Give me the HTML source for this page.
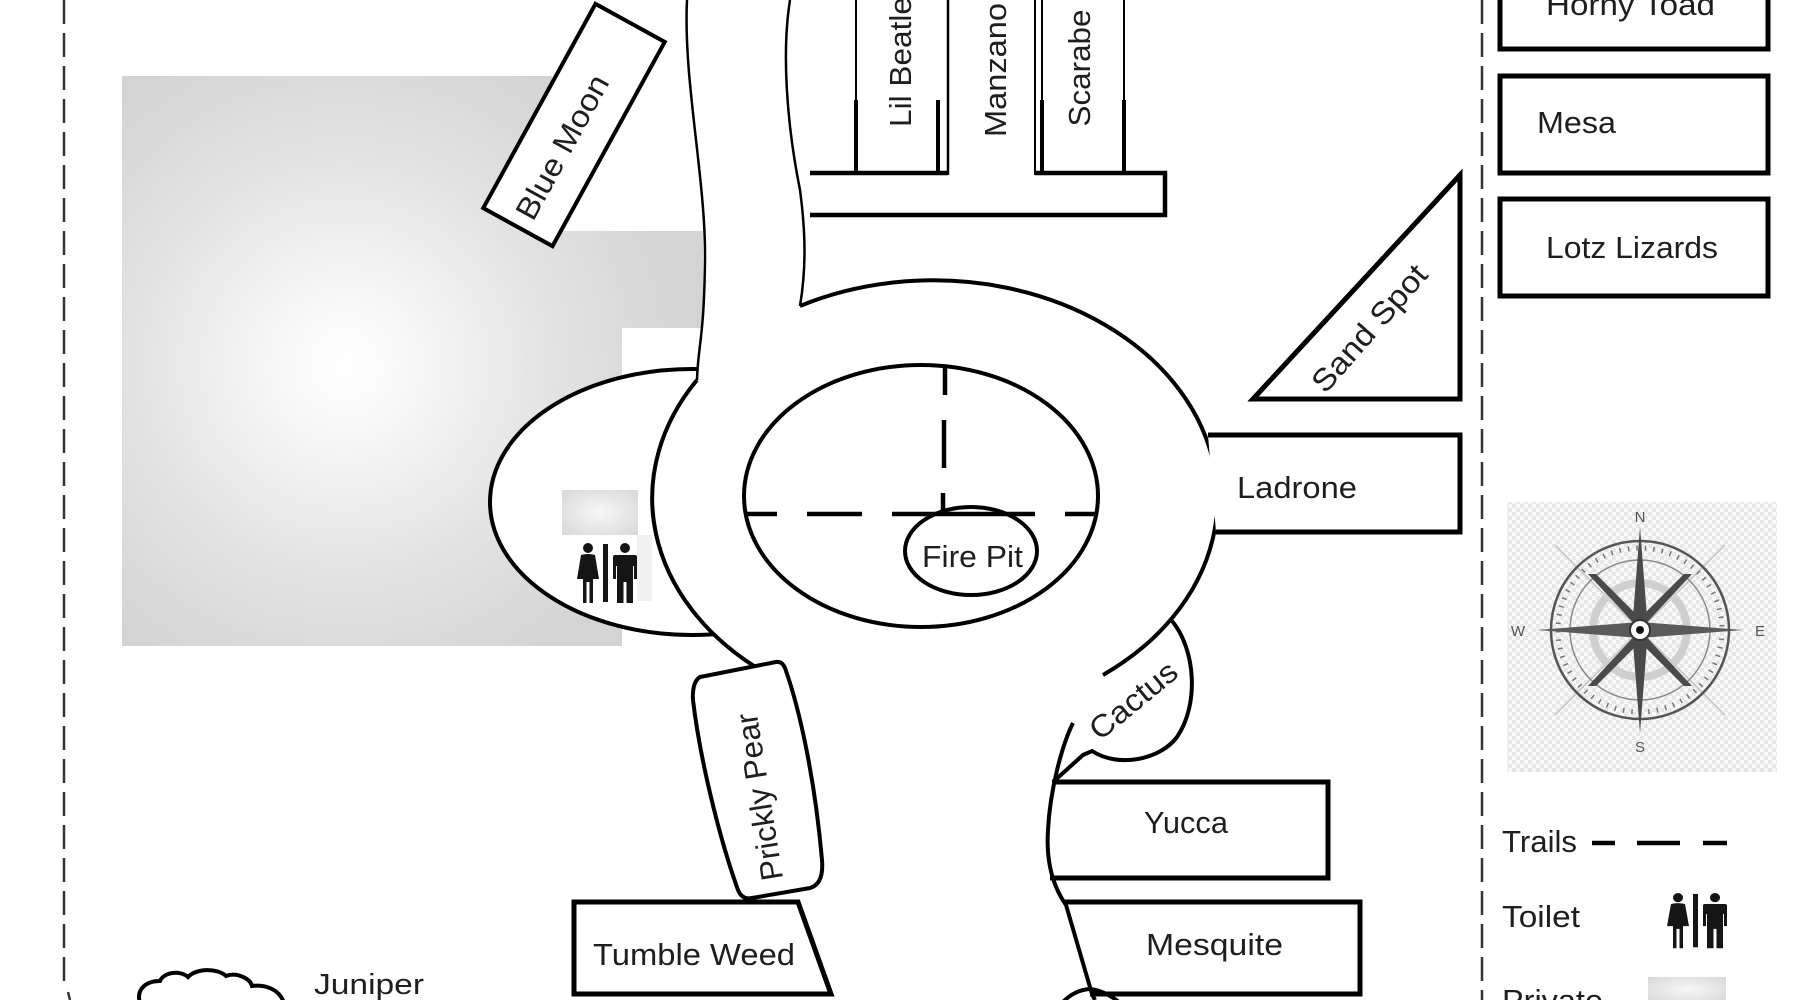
<!DOCTYPE html>
<html>
<head>
<meta charset="utf-8">
<style>
html,body{margin:0;padding:0;background:#fff;}
svg{display:block;}
text{font-family:"Liberation Sans",Arial,sans-serif;fill:#1e1e1e;font-size:31px;}
</style>
</head>
<body>
<svg width="1800" height="1000" viewBox="0 0 1800 1000" xmlns="http://www.w3.org/2000/svg">
<defs>
  <radialGradient id="pg" gradientUnits="userSpaceOnUse" cx="345" cy="365" r="345">
    <stop offset="0" stop-color="#ffffff"/>
    <stop offset="0.2" stop-color="#f7f7f7"/>
    <stop offset="0.6" stop-color="#e3e3e3"/>
    <stop offset="1" stop-color="#d4d4d4"/>
  </radialGradient>
  <radialGradient id="sg" cx="0.5" cy="0.5" r="0.65">
    <stop offset="0" stop-color="#f7f7f7"/>
    <stop offset="1" stop-color="#dadada"/>
  </radialGradient>
  <pattern id="chk" width="8" height="8" patternUnits="userSpaceOnUse">
    <rect width="8" height="8" fill="#f8f8f8"/>
    <rect width="4" height="4" fill="#e7e7e7"/>
    <rect x="4" y="4" width="4" height="4" fill="#e7e7e7"/>
  </pattern>
  <g id="wc" fill="#151515">
    <circle cx="11" cy="5" r="5"/>
    <path d="M4,12 Q11,10 18,12 L22,36 H16 V60 H12.5 V39 H9.5 V60 H6 V36 H0 Z"/>
    <rect x="26" y="1" width="5" height="58"/>
    <circle cx="48" cy="5" r="5"/>
    <path d="M38,12 H58 Q60,12 60,14 V36 H57 V23 H56 V60 H49.5 V39 H46.5 V60 H40 V23 H39 V36 H36 V14 Q36,12 38,12 Z"/>
  </g>
</defs>

<!-- background -->
<rect width="1800" height="1000" fill="#fff"/>

<!-- boundary dashed lines -->
<line x1="64" y1="0" x2="64" y2="982" stroke="#333" stroke-width="2.5" stroke-dasharray="24 9"/>
<line x1="68" y1="992" x2="70" y2="1000" stroke="#333" stroke-width="2.5"/>
<line x1="1482" y1="0" x2="1482" y2="1000" stroke="#333" stroke-width="2.5" stroke-dasharray="24 9"/>

<!-- private area -->
<path d="M122,76 H552 V231 H703 V328 H622 V646 H122 Z" fill="url(#pg)"/>

<!-- toilet area ellipse -->
<ellipse cx="692" cy="502" rx="202" ry="133" fill="#fff" stroke="#000" stroke-width="4"/>
<rect x="562" y="490" width="76" height="45" fill="url(#sg)"/>
<rect x="637" y="535" width="15" height="66" fill="#f0f0f0"/>
<use href="#wc" transform="translate(577,543)"/>

<!-- road fills -->
<ellipse cx="936" cy="498" rx="284" ry="219" fill="#fff"/>
<path d="M687,0 C683,80 706,180 705,260 S698,345 697,380 L720,400 L800,320 L800,306 C806,270 806,235 800,190 C786,120 782,50 790,0 Z" fill="#fff"/>

<!-- road strokes -->
<path d="M687,0 C683,80 706,180 705,260 S698,345 697,380" fill="none" stroke="#000" stroke-width="2.5"/>
<path d="M790,0 C782,50 786,120 800,190 C806,235 806,270 800,306" fill="none" stroke="#000" stroke-width="2.5"/>
<path d="M697,380 A284,219 0 0 0 757,668" fill="none" stroke="#000" stroke-width="4"/>
<path d="M800,306 A284,219 0 0 1 1103,675" fill="none" stroke="#000" stroke-width="4"/>

<!-- cactus bubble -->
<path d="M1172,621 C1196,650 1199,705 1177,737 C1160,760 1118,768 1092,751 L1083,755 L1053,782" fill="#fff" stroke="#000" stroke-width="4"/>

<!-- inner ellipse -->
<ellipse cx="921" cy="496" rx="177" ry="131" fill="#fff" stroke="#000" stroke-width="4"/>

<!-- fire pit -->
<ellipse cx="971" cy="551" rx="66" ry="44" fill="#fff" stroke="#000" stroke-width="4"/>

<!-- trails -->
<g stroke="#000" stroke-width="4.5">
  <line x1="747" y1="514" x2="777" y2="514"/>
  <line x1="807" y1="514" x2="862" y2="514"/>
  <line x1="892" y1="514" x2="1035" y2="514"/>
  <line x1="1065" y1="514" x2="1095" y2="514"/>
  <line x1="945" y1="368" x2="945" y2="395"/>
  <line x1="944" y1="420" x2="944" y2="468"/>
  <line x1="943" y1="493" x2="943" y2="514"/>
</g>

<!-- cabins at top -->
<g stroke="#000" fill="none">
  <line x1="856" y1="0" x2="856" y2="100" stroke-width="2"/>
  <line x1="856" y1="100" x2="856" y2="175" stroke-width="4"/>
  <line x1="948" y1="0" x2="948" y2="175" stroke-width="2.5"/>
  <line x1="938" y1="100" x2="938" y2="175" stroke-width="4"/>
  <line x1="1035" y1="0" x2="1035" y2="175" stroke-width="2"/>
  <line x1="1042" y1="0" x2="1042" y2="100" stroke-width="2"/>
  <line x1="1042" y1="100" x2="1042" y2="175" stroke-width="4"/>
  <line x1="1124" y1="0" x2="1124" y2="100" stroke-width="2"/>
  <line x1="1124" y1="100" x2="1124" y2="175" stroke-width="4"/>
  <path d="M948,173 H810 M1035,173 H1165 V215 H810" stroke-width="4.5"/>
</g>

<!-- Blue Moon -->
<g transform="translate(574,125) rotate(-61.2)">
  <rect x="-116.5" y="-39.5" width="233" height="79" fill="#fff" stroke="#000" stroke-width="4"/>
  <text x="-25" y="11" text-anchor="middle" textLength="160" lengthAdjust="spacingAndGlyphs">Blue Moon</text>
</g>

<!-- boxes -->
<g fill="#fff" stroke="#000" stroke-width="5">
  <rect x="1500" y="-10" width="268" height="59"/>
  <rect x="1500" y="76" width="268" height="97"/>
  <rect x="1500" y="199" width="268" height="97"/>
  <polygon points="1460,175 1253,399 1460,399"/>
  <path d="M1208,435 H1460 V532 H1216"/>
  <path d="M1052,782 H1328 V878 H1050"/>
  <path d="M1064,902 H1360 V994 H1090"/>
  <path d="M574,902 H798 L831,994 H574 Z"/>
  <path d="M700,677 L776,662 Q782,661 785,668 C800,710 815,780 822,860 Q824,884 810,888 L752,898 Q742,900 738,890 C720,840 700,760 693,700 Q692,682 700,677 Z" stroke-width="4"/>
</g>

<!-- lower right road edge (on top of boxes) -->
<path d="M1073,723 C1062,745 1050,790 1048,830 C1046,860 1052,885 1066,905 L1092,994 L1095,1000" fill="none" stroke="#000" stroke-width="4"/>

<!-- bottom small arcs / cloud -->
<path d="M1062,1003 Q1074,990 1090,989 Q1106,991 1120,1003" fill="none" stroke="#000" stroke-width="4"/>
<path d="M140,1003 C136,990 145,981 160,981 C164,972 180,970 188,977 C196,968 218,968 226,976 C236,972 250,978 252,986 C266,984 280,990 284,1003" fill="#fff" stroke="#000" stroke-width="4"/>

<!-- labels -->
<g transform="translate(900,62) rotate(-90)"><text x="0" y="11" text-anchor="middle" textLength="130" lengthAdjust="spacingAndGlyphs">Lil Beatle</text></g>
<g transform="translate(995,70) rotate(-90)"><text x="0" y="11" text-anchor="middle" textLength="134" lengthAdjust="spacingAndGlyphs">Manzano</text></g>
<g transform="translate(1079,68) rotate(-90)"><text x="0" y="11" text-anchor="middle" textLength="117" lengthAdjust="spacingAndGlyphs">Scarabe</text></g>

<text x="1546" y="15" textLength="169" lengthAdjust="spacingAndGlyphs">Horny Toad</text>
<text x="1537" y="133" textLength="79" lengthAdjust="spacingAndGlyphs">Mesa</text>
<text x="1546" y="258" textLength="172" lengthAdjust="spacingAndGlyphs">Lotz Lizards</text>
<g transform="translate(1369,328) rotate(-48.8)"><text x="0" y="11" text-anchor="middle" textLength="158" lengthAdjust="spacingAndGlyphs">Sand Spot</text></g>
<text x="1237" y="498" textLength="120" lengthAdjust="spacingAndGlyphs">Ladrone</text>
<text x="922" y="567" textLength="101" lengthAdjust="spacingAndGlyphs">Fire Pit</text>
<g transform="translate(1133,700) rotate(-39.5)"><text x="0" y="11" text-anchor="middle" textLength="104" lengthAdjust="spacingAndGlyphs">Cactus</text></g>
<text x="1144" y="833" textLength="84" lengthAdjust="spacingAndGlyphs">Yucca</text>
<text x="1146" y="955" textLength="137" lengthAdjust="spacingAndGlyphs">Mesquite</text>
<text x="593" y="965" textLength="202" lengthAdjust="spacingAndGlyphs">Tumble Weed</text>
<g transform="translate(759,797) rotate(-99)"><text x="0" y="11" text-anchor="middle" textLength="169" lengthAdjust="spacingAndGlyphs">Prickly Pear</text></g>
<text x="314" y="994" style="font-size:29px" textLength="110" lengthAdjust="spacingAndGlyphs">Juniper</text>

<!-- compass -->
<rect x="1507" y="502" width="270" height="270" fill="url(#chk)"/>
<g stroke="#c4c4c4" stroke-width="1.5">
  <line x1="1555" y1="545" x2="1725" y2="715"/>
  <line x1="1725" y1="545" x2="1555" y2="715"/>
</g>
<circle cx="1640" cy="630" r="89" fill="none" stroke="#555" stroke-width="2.5"/>
<circle cx="1640" cy="630" r="82" fill="none" stroke="#777" stroke-width="5" stroke-dasharray="1.5 7"/>
<circle cx="1640" cy="630" r="70" fill="none" stroke="#8a8a8a" stroke-width="1.5"/>
<circle cx="1640" cy="630" r="47" fill="none" stroke="#cfcfcf" stroke-width="8"/>
<g fill="#4a4a4a">
  <polygon points="1640,630 1588,574 1596,574 1646,624"/>
  <polygon points="1640,630 1692,574 1684,574 1634,624"/>
  <polygon points="1640,630 1588,686 1596,686 1646,636"/>
  <polygon points="1640,630 1692,686 1684,686 1634,636"/>
  <polygon points="1640,527 1648,630 1640,733 1632,630"/>
  <polygon points="1537,630 1640,622 1743,630 1640,638" fill="#5a5a5a"/>
</g>
<circle cx="1640" cy="630" r="10" fill="#fff" stroke="#333" stroke-width="2"/>
<circle cx="1640" cy="630" r="4" fill="#111"/>
<text x="1640" y="522" text-anchor="middle" style="font-size:15px;fill:#555">N</text>
<text x="1640" y="752" text-anchor="middle" style="font-size:15px;fill:#555">S</text>
<text x="1518" y="636" text-anchor="middle" style="font-size:15px;fill:#555">W</text>
<text x="1760" y="636" text-anchor="middle" style="font-size:15px;fill:#555">E</text>

<!-- legend -->
<text x="1502" y="852" textLength="75" lengthAdjust="spacingAndGlyphs">Trails</text>
<g stroke="#000" stroke-width="4.5">
  <line x1="1592" y1="843" x2="1615" y2="843"/>
  <line x1="1637" y1="843" x2="1680" y2="843"/>
  <line x1="1703" y1="843" x2="1727" y2="843"/>
</g>
<text x="1502" y="927" textLength="78" lengthAdjust="spacingAndGlyphs">Toilet</text>
<use href="#wc" transform="translate(1667,893) scale(1,0.92)"/>
<text x="1502" y="1011" textLength="101" lengthAdjust="spacingAndGlyphs">Private</text>
<rect x="1648" y="977" width="78" height="25" fill="url(#sg)"/>
</svg>
</body>
</html>
